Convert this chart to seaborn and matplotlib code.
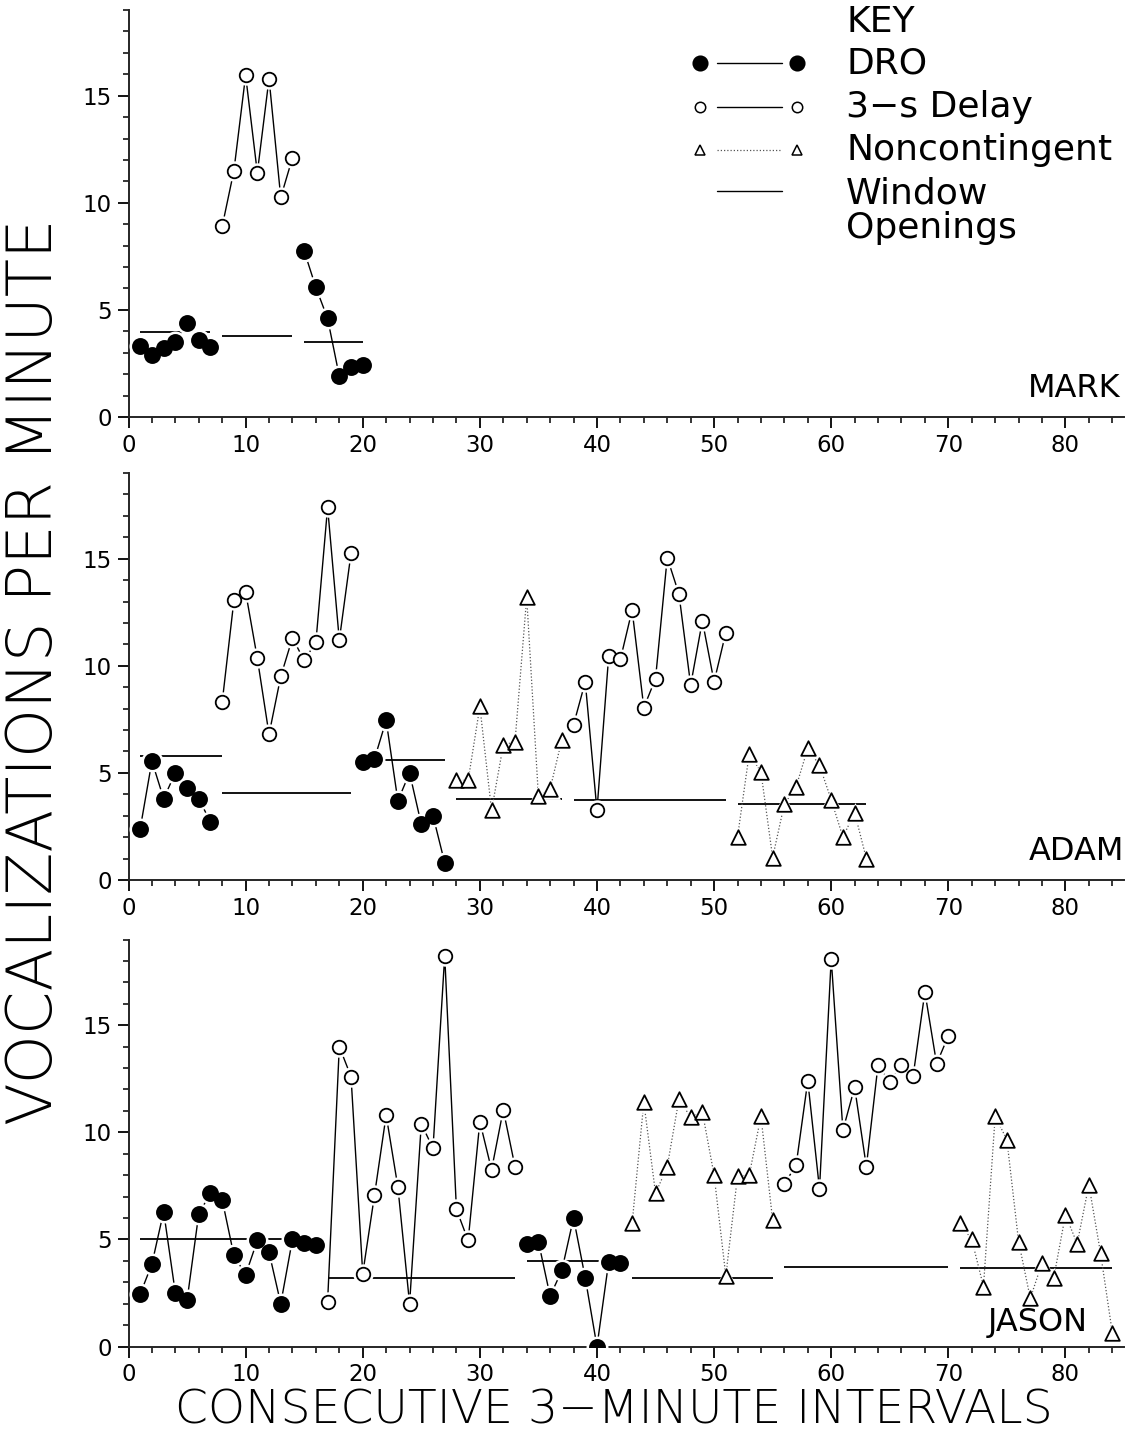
import matplotlib
matplotlib.use("Agg")
import matplotlib.pyplot as plt
from matplotlib.lines import Line2D
from matplotlib.ticker import MultipleLocator
import seaborn as sns

# Vocalizations per minute, one list per phase; sessions numbered from 1 per subject
MARK_CONDITIONS = ["DRO", "Delay", "DRO"]
MARK_VALUES = [
    [3.3, 2.9, 3.2, 3.5, 4.4, 3.6, 3.25],
    [8.9, 11.5, 15.95, 11.4, 15.8, 10.25, 12.1],
    [7.75, 6.05, 4.6, 1.9, 2.35, 2.45],
]
MARK_WINDOWS = [3.95, 3.8, 3.5]
MARK_WINDOW_SPANS = [(1, 7), (8, 14), (15, 20)]

ADAM_CONDITIONS = ["DRO", "Delay", "DRO", "Noncontingent", "Delay", "Noncontingent"]
ADAM_VALUES = [
    [2.4, 5.55, 3.8, 5.0, 4.3, 3.8, 2.7],
    [8.3, 13.05, 13.45, 10.35, 6.8, 9.5, 11.3, 10.25, 11.1, 17.4, 11.2, 15.25],
    [5.5, 5.65, 7.45, 3.7, 5.0, 2.6, 3.0, 0.8],
    [4.65, 4.65, 8.1, 3.25, 6.3, 6.45, 13.2, 3.9, 4.25, 6.55],
    [7.25, 9.25, 3.25, 10.45, 10.3, 12.6, 8.05, 9.4, 15.05, 13.35, 9.1, 12.1, 9.25, 11.55],
    [2.0, 5.9, 5.05, 1.05, 3.55, 4.35, 6.15, 5.35, 3.75, 2.0, 3.15, 1.0],
]
ADAM_WINDOWS = [5.8, 4.05, 5.6, 3.8, 3.75, 3.55]
ADAM_WINDOW_SPANS = [(1, 8), (8, 19), (20, 27), (28, 37), (38, 51), (52, 63)]

JASON_CONDITIONS = ["DRO", "Delay", "DRO", "Noncontingent", "Delay", "Noncontingent"]
JASON_VALUES = [
    [2.45, 3.85, 6.3, 2.5, 2.15, 6.2, 7.15, 6.85, 4.25, 3.35, 4.95, 4.4, 2.0, 5.0, 4.85, 4.75],
    [2.1, 14.0, 12.6, 3.4, 7.05, 10.8, 7.45, 2.0, 10.4, 9.25, 18.25, 6.4, 4.95, 10.5, 8.25, 11.05, 8.4],
    [4.8, 4.9, 2.35, 3.55, 6.0, 3.2, 0.0, 3.95, 3.9],
    [5.75, 11.4, 7.15, 8.4, 11.55, 10.7, 10.95, 8.0, 3.3, 7.95, 8.0, 10.75, 5.9],
    [7.6, 8.45, 12.4, 7.35, 18.1, 10.1, 12.1, 8.4, 13.15, 12.35, 13.15, 12.65, 16.55, 13.2, 14.5],
    [5.75, 5.0, 2.8, 10.75, 9.65, 4.9, 2.25, 3.9, 3.2, 6.15, 4.8, 7.55, 4.35, 0.65],
]
JASON_WINDOWS = [5.0, 3.2, 4.0, 3.2, 3.7, 3.65]
JASON_WINDOW_SPANS = [(1, 16), (17, 33), (34, 41), (43, 55), (56, 70), (71, 84)]

SUBJECTS = ["MARK", "ADAM", "JASON"]
KEY_LABELS = ["DRO", "3\u2212s Delay", "Noncontingent", "Window\nOpenings"]
Y_TICKS = [0, 5, 10, 15]
X_TICKS = [0, 10, 20, 30, 40, 50, 60, 70, 80]

# marker / line appearance for each condition
STYLE = {
    "DRO": dict(marker="o", face="black", size=118, halo=250, ls="-", lw=1.0, lc="black"),
    "Delay": dict(marker="o", face="white", size=95, halo=215, ls="-", lw=1.0, lc="black"),
    "Noncontingent": dict(marker="^", face="white", size=110, halo=225, ls=(0, (1, 1.6)),
                          lw=0.9, lc="#555555"),
}

sns.set_theme(style="ticks")
plt.rcParams["font.family"] = ["DejaVu Sans"]
plt.rcParams["axes.linewidth"] = 1.4
plt.rcParams["text.color"] = "black"
TITLE_TXT = dict(color="black", fontweight="light")
TXT = dict(color="black")

W, H = 1134, 1444
fig = plt.figure(figsize=(W / 100, H / 100), dpi=100)

left = 128.5 / W
width = (1124 - 128.5) / W
height = 407 / H
zero_rows = [417, 880, 1346.5]

panels = [
    (MARK_CONDITIONS, MARK_VALUES, MARK_WINDOWS, MARK_WINDOW_SPANS),
    (ADAM_CONDITIONS, ADAM_VALUES, ADAM_WINDOWS, ADAM_WINDOW_SPANS),
    (JASON_CONDITIONS, JASON_VALUES, JASON_WINDOWS, JASON_WINDOW_SPANS),
]
name_pos = [(84.7, 1.35), (85.0, 1.35), (81.9, 1.1)]

for i, (conds, values, windows, spans) in enumerate(panels):
    ax = fig.add_axes([left, 1 - zero_rows[i] / H, width, height])
    start = 1
    for cond, vals in zip(conds, values):
        xs = list(range(start, start + len(vals)))
        st = STYLE[cond]
        sns.lineplot(x=xs, y=vals, ax=ax, color=st["lc"], linewidth=st["lw"],
                     linestyle=st["ls"], estimator=None, sort=False, zorder=2)
        # white halo leaves a small gap between the connecting line and each symbol
        sns.scatterplot(x=xs, y=vals, ax=ax, marker=st["marker"], s=st["halo"],
                        color="white", edgecolor="white", linewidth=0, zorder=3)
        sns.scatterplot(x=xs, y=vals, ax=ax, marker=st["marker"], s=st["size"],
                        color=st["face"], edgecolor="black", linewidth=1.3, zorder=4)
        start += len(vals)
    for level, (a, b) in zip(windows, spans):
        ax.hlines(level, a, b, color="black", linewidth=1.3, zorder=1)

    ax.set_xlim(0, 85)
    ax.set_ylim(0, 19)
    sns.despine(ax=ax)
    ax.spines["left"].set_position(("data", 0))
    ax.set_xticks(X_TICKS)
    ax.set_yticks(Y_TICKS)
    ax.xaxis.set_minor_locator(MultipleLocator(2))
    ax.yaxis.set_minor_locator(MultipleLocator(1))
    ax.tick_params(which="major", direction="out", length=8, width=1.3,
                   labelsize=16.5, pad=4, color="black", labelcolor="black")
    ax.tick_params(which="minor", direction="out", length=4.5, width=1.1, color="black")
    ax.set_xlabel("")
    ax.set_ylabel("")
    ax.text(name_pos[i][0], name_pos[i][1], SUBJECTS[i], ha="right", va="center",
            fontsize=23, **TXT)

fig.text(35 / W, 1 - 672 / H, "VOCALIZATIONS PER MINUTE", rotation=90,
         ha="center", va="center", fontsize=45, **TITLE_TXT)
fig.text(614 / W, 1 - 1410 / H, "CONSECUTIVE 3\u2212MINUTE INTERVALS",
         ha="center", va="center", fontsize=34, **TITLE_TXT)

# key, laid out in pixel coordinates
key = fig.add_axes([0, 0, 1, 1])
key.set_xlim(0, W)
key.set_ylim(H, 0)
key.axis("off")
key.patch.set_alpha(0)
KEY_FONT = 26
key.text(846, 22, "KEY", ha="left", va="center", fontsize=KEY_FONT, **TXT)
rows = [("DRO", 63), ("Delay", 107), ("Noncontingent", 150)]
for (cond, y), label in zip(rows, KEY_LABELS[:3]):
    st = STYLE[cond]
    key.add_line(Line2D([717, 782], [y, y], color=st["lc"], linewidth=st["lw"],
                        linestyle=st["ls"]))
    ms = 10.5 if cond == "DRO" else 7.5
    for mx in (700, 797):
        key.plot(mx, y, marker=st["marker"], markersize=ms, markerfacecolor=st["face"],
                 markeredgecolor="black", markeredgewidth=1.1, linestyle="none")
    key.text(846, y, label, ha="left", va="center", fontsize=KEY_FONT, **TXT)
key.add_line(Line2D([717, 782], [191, 191], color="black", linewidth=1.0))
key.text(846, 211, KEY_LABELS[3], ha="left", va="center", fontsize=KEY_FONT,
         linespacing=1.0, **TXT)

fig.savefig("out.png", dpi=100, facecolor="white")
